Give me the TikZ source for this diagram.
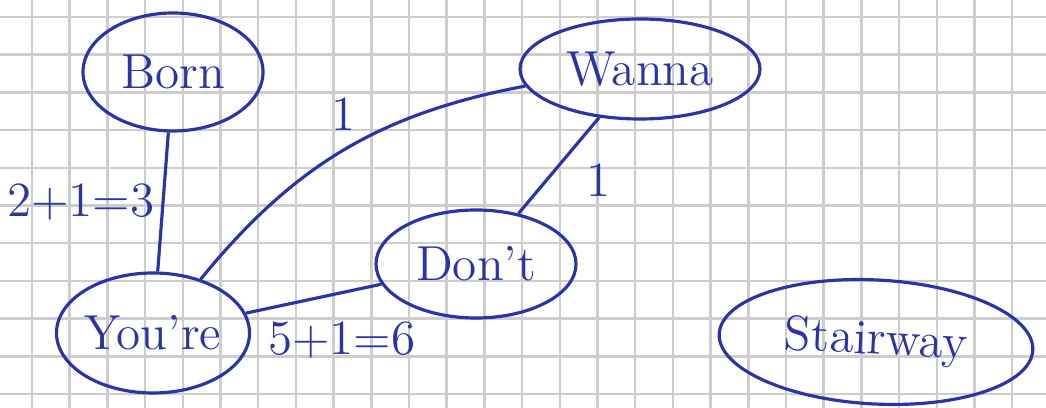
\documentclass[tikz,border=0pt]{standalone}
\usepackage{xcolor}
\usepackage{tikz}
\usetikzlibrary{arrows.meta, positioning, calc, shapes.geometric}
\definecolor{ink}{HTML}{2A34A6}
\definecolor{paper}{HTML}{CDCDCD}

\begin{document}
\begin{tikzpicture}[
    word/.style={draw=ink, ellipse, line width=0.9pt, text=ink, inner sep=0pt, font=\fontsize{14}{16}\selectfont},
    link/.style={draw=ink, line width=0.9pt},
    weight/.style={text=ink, inner sep=1pt, font=\fontsize{14}{16}\selectfont}
  ]
    % Paper and squares
    \useasboundingbox (0,0) rectangle (10.46,4.08);
    \fill[white] (0,0) rectangle (10.46,4.08);
    \foreach \i in {0,...,27} {
        \draw[paper, line width=0.7pt] ({0.32+0.377*(\i-1)},0) -- ({0.32+0.377*(\i-1)},4.08);
    }
    \foreach \j in {0,...,10} {
        \draw[paper, line width=0.7pt] (0,{3.91-0.377*\j}) -- (10.46,{3.91-0.377*\j});
    }

    % Words
    \node[word, minimum width=1.8cm, minimum height=1.18cm] (born) at (1.73,3.36) {Born};
    \node[word, minimum width=2.4cm, minimum height=1.0cm] (wanna) at (6.40,3.39) {Wanna};
    \node[word, minimum width=2.0cm, minimum height=1.08cm] (dont) at (4.76,1.44) {Don't};
    \node[word, minimum width=1.9cm, minimum height=1.2cm] (youre) at (1.53,0.75) {You're};
    \node[word, minimum width=3.14cm, minimum height=1.24cm, rotate=-3] (stairway) at (8.76,0.66) {Stairway};

    % Links
    \draw[link] (born) -- node[weight, midway, left=1pt] {2+1=3} (youre);
    \draw[link] (youre) to[bend left=20] node[weight, midway, above=4pt] {1} (wanna);
    \draw[link] (youre) -- node[weight, midway, below=5pt, xshift=8pt] {5+1=6} (dont);
    \draw[link] (dont) -- node[weight, pos=0.35, right=10pt] {1} (wanna);
\end{tikzpicture}
\end{document}
